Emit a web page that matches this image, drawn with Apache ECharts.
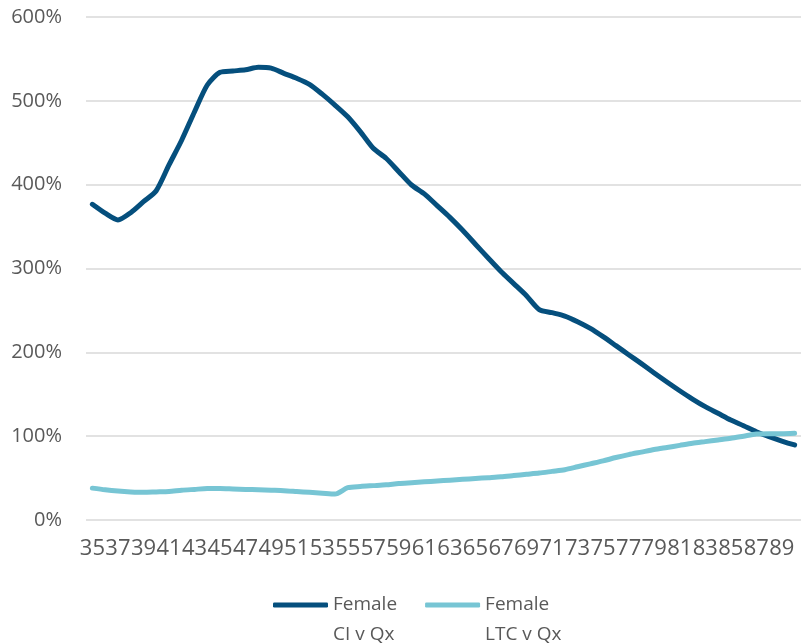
<!DOCTYPE html>
<html>
<head>
<meta charset="utf-8">
<script src="https://cdn.jsdelivr.net/npm/echarts@6/dist/echarts.min.js"></script>
<style>
  html, body { margin: 0; padding: 0; background: #ffffff; }
  #chart { width: 801px; height: 643px; }
</style>
</head>
<body>
<div id="chart"></div>
<script>
// Ages 35..90
const ages = [];
for (let a = 35; a <= 90; a++) ages.push(String(a));

// Female critical illness incidence relative to Qx (%)
const ciVsQx = [
  376.6, 366, 358, 366.6, 379.7, 392.8, 423.5, 453.3, 487, 518.9,
  534, 535.6, 537, 540, 539, 532.8, 526.9, 519.7, 508, 495,
  481, 463, 443.4, 431.5, 415.5, 399.6, 389, 375, 361, 345.6,
  329, 312.5, 296.4, 282, 267.5, 251, 247.3, 243.3, 236.6, 228.6,
  218.7, 208, 197.2, 186.5, 175.4, 164.6, 154.2, 144.3, 135.2, 127.3,
  119.3, 112.5, 105.3, 99.4, 94.2, 89.5
];

// Female long-term care incidence relative to Qx (%)
const ltcVsQx = [
  38, 36, 34.5, 33.5, 33, 33.5, 34, 35.5, 36.5, 37.5,
  37.5, 37, 36.5, 36, 35.5, 35, 34, 33, 32, 31,
  38.5, 40, 41, 42, 43.5, 44.5, 45.5, 46.5, 47.5, 48.5,
  49.5, 50.5, 51.5, 53, 54.5, 56, 58, 60, 63.5, 67,
  70.5, 74.5, 78, 81, 84, 86.5, 89, 91.5, 93.5, 95.5,
  97.5, 100, 102.5, 103, 103, 103.5
];

const seriesNames = ['Female\nCI v Qx', 'Female\nLTC v Qx'];
const yTicks = { min: 0, max: 600, interval: 100 };

const textColor = '#595959';
const fontFamily = '"Open Sans", "Liberation Sans", sans-serif';

const chart = echarts.init(document.getElementById('chart'), null, { renderer: 'canvas' });

chart.setOption({
  animation: false,
  backgroundColor: '#ffffff',
  grid: { left: 86, right: -5, top: 17, bottom: 123, containLabel: false },
  legend: {
    top: 555,
    left: 268,
    itemWidth: 55,
    itemHeight: 5,
    itemGap: 28,
    icon: 'roundRect',
    // leading blank line keeps the swatch level with the first text line
    formatter: name => '\n' + name,
    textStyle: {
      color: textColor,
      fontFamily: fontFamily,
      fontSize: 19,
      lineHeight: 30
    },
    data: seriesNames
  },
  xAxis: {
    type: 'category',
    data: ages,
    boundaryGap: true,
    axisLine: { show: false },
    axisTick: { show: false },
    axisLabel: {
      interval: 1,
      margin: 18,
      color: textColor,
      fontFamily: fontFamily,
      fontSize: 22
    },
    splitLine: { show: false }
  },
  yAxis: {
    type: 'value',
    min: yTicks.min,
    max: yTicks.max,
    interval: yTicks.interval,
    axisLine: { show: false },
    axisTick: { show: false },
    axisLabel: {
      margin: 24,
      color: textColor,
      fontFamily: fontFamily,
      fontSize: 20,
      formatter: v => v + '%'
    },
    splitLine: { lineStyle: { color: '#d9d9d9', width: 1.5 } }
  },
  series: [
    {
      name: seriesNames[0],
      type: 'line',
      data: ciVsQx,
      smooth: 0.25,
      showSymbol: false,
      symbol: 'none',
      lineStyle: { color: '#054f7d', width: 5, cap: 'round', join: 'round' },
      itemStyle: { color: '#054f7d' }
    },
    {
      name: seriesNames[1],
      type: 'line',
      data: ltcVsQx,
      smooth: 0.25,
      showSymbol: false,
      symbol: 'none',
      lineStyle: { color: '#77c5d4', width: 5, cap: 'round', join: 'round' },
      itemStyle: { color: '#77c5d4' }
    }
  ]
});
</script>
</body>
</html>
